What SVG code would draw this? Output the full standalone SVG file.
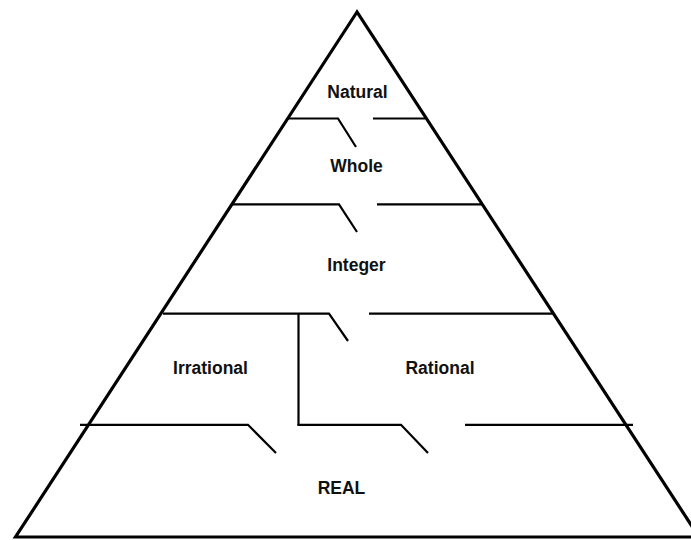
<svg xmlns="http://www.w3.org/2000/svg" width="691" height="540" viewBox="0 0 691 540">
<style>
.frame{fill:none;stroke:#000;stroke-width:3.2;stroke-linejoin:miter}
.wall{fill:none;stroke:#000;stroke-width:2.2;stroke-linecap:butt;stroke-linejoin:miter}
.lbl{font-family:"Liberation Sans",Arial,sans-serif;font-weight:bold;font-size:17.5px;fill:#111;text-anchor:middle}
</style>
<rect width="691" height="540" fill="#fff"/>
<g id="pyramid">
<polygon class="frame" points="357,12 15.5,537 699,537"/>
</g>
<g id="connectors">
<polyline class="wall" points="288,118.5 338,118.5 356,147"/>
<line class="wall" x1="373" y1="118.5" x2="425" y2="118.5"/>
<polyline class="wall" points="233,204.3 339,204.3 357,232"/>
<line class="wall" x1="377" y1="204.3" x2="482" y2="204.3"/>
<polyline class="wall" points="163,313.7 329,313.7 348,341"/>
<line class="wall" x1="369" y1="313.7" x2="553" y2="313.7"/>
<line class="wall" x1="298.5" y1="313.7" x2="298.5" y2="425"/>
<polyline class="wall" points="80,424.8 248,424.8 276,453"/>
<polyline class="wall" points="297.4,424.8 401,424.8 428,453"/>
<line class="wall" x1="465" y1="424.8" x2="633" y2="424.8"/>
</g>
<g id="natural"><text class="lbl" x="357.5" y="97.5">Natural</text></g>
<g id="whole"><text class="lbl" x="356.5" y="171.5">Whole</text></g>
<g id="integer"><text class="lbl" x="356.5" y="270.5">Integer</text></g>
<g id="irrational"><text class="lbl" x="210.5" y="373.5">Irrational</text></g>
<g id="rational"><text class="lbl" x="440" y="373.5">Rational</text></g>
<g id="real"><text class="lbl" x="341.5" y="493.5">REAL</text></g>
</svg>
